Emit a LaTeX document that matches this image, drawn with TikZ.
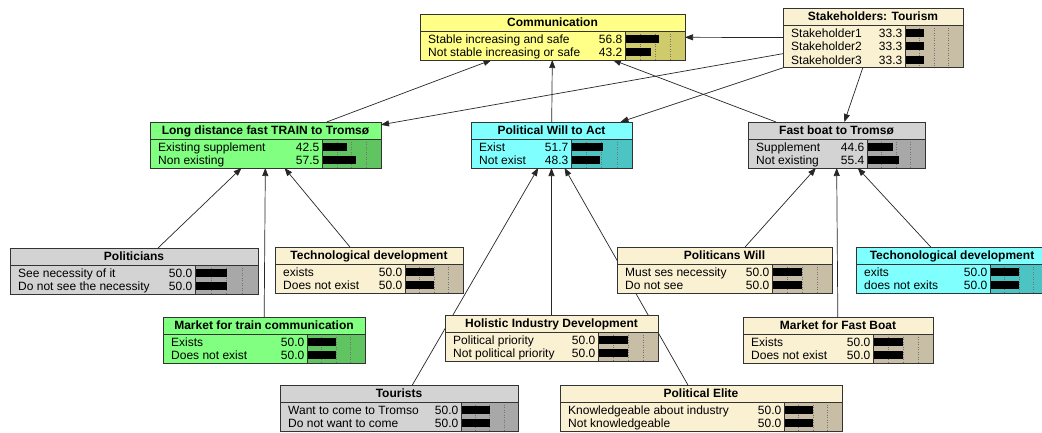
\documentclass[tikz,border=0pt]{standalone}
\usepackage{fontspec}
\setmainfont{Liberation Sans}
\usetikzlibrary{arrows.meta}
\pgfdeclarelayer{bg}
\pgfdeclarelayer{paper}
\pgfsetlayers{paper,bg,main}
\definecolor{ylw}{HTML}{FFFF88}
\definecolor{ylwD}{HTML}{CFCB6A}
\definecolor{bge}{HTML}{FAF0D2}
\definecolor{bgeD}{HTML}{C8BEA5}
\definecolor{grn}{HTML}{80FF80}
\definecolor{grnD}{HTML}{60C460}
\definecolor{cyn}{HTML}{80FFFF}
\definecolor{cynD}{HTML}{4CC4C4}
\definecolor{gry}{HTML}{D3D3D3}
\definecolor{gryD}{HTML}{A8A8A8}
\tikzset{
  arr/.style={draw=black!85, line width=0.7pt, -{Triangle[length=8pt,width=6pt]}},
  boxline/.style={draw=black!80, line width=0.8pt},
  lab/.style={inner sep=0pt, font=\fontsize{12}{13}\selectfont},
  ttl/.style={inner sep=0pt, font=\bfseries\fontsize{12}{13}\selectfont},
  grid/.style={draw=black!55, dotted, line width=0.5pt}
}
% #1 name, #2 L, #3 T, #4 R, #5 bar start, #6 number of states, #7 title, #8 colour, #9 states
\newcommand\bnet[9]{%
  \pgfmathsetmacro\bnH{17+2+13.5*#6}%
  \pgfmathsetmacro\bnW{#4-#2}%
  \node[fill=#8, minimum width=\bnW pt, minimum height=\bnH pt, anchor=north west,
        inner sep=0pt, outer sep=0pt] (#1) at (#2,#3) {};
  \fill[#8D] (#5,{#3+17}) rectangle (#4,{#3+\bnH});
  \foreach \p in {0.25,0.5,0.75}
    \draw[grid] ({#5+\p*(#4-#5)},{#3+17}) -- ({#5+\p*(#4-#5)},{#3+\bnH});
  \node[ttl, anchor=base] at ({(#2+#4)/2},{#3+12.8}) {#7};
  \foreach[count=\i] \lb/\vl in {#9} {%
    \pgfmathsetmacro\yy{#3+18+13.5*(\i-0.5)}%
    \node[lab, anchor=base west] at ({#2+8},{\yy+4.3}) {\lb};
    \node[lab, anchor=base east] at ({#5-2.5},{\yy+4.3}) {\vl};
    \fill[black] (#5,{\yy-4}) rectangle ({#5+\vl/100*(#4-#5)},{\yy+4});
  }
  \draw[boxline] (#2,{#3+17}) -- (#4,{#3+17});
  \draw[boxline] (#5,{#3+17}) -- (#5,{#3+\bnH});
  \draw[boxline] (#2,#3) rectangle (#4,{#3+\bnH});
}
\begin{document}
\begin{tikzpicture}[x=1pt,y=-1pt]
\begin{pgfonlayer}{paper}
\fill[white] (0,0) rectangle (1042,432);
\end{pgfonlayer}
\useasboundingbox (0,0) rectangle (1042,432);

\bnet{comm}{420}{14}{685}{625}{2}{Communication}{ylw}{Stable increasing and safe/56.8, Not stable increasing or safe/43.2}
\bnet{stake}{783}{8}{963}{905}{3}{Stakeholders: Tourism}{bge}{Stakeholder1/33.3, Stakeholder2/33.3, Stakeholder3/33.3}
\bnet{train}{150}{122}{381}{322}{2}{Long distance fast TRAIN to Tromsø}{grn}{Existing supplement/42.5, Non existing/57.5}
\bnet{pw}{471}{122}{632}{571}{2}{Political Will to Act}{cyn}{Exist/51.7, Not exist/48.3}
\bnet{boat}{748}{122}{925}{867}{2}{Fast boat to Tromsø}{gry}{Supplement/44.6, Not existing/55.4}
\bnet{politicians}{10}{248}{258}{195}{2}{Politicians}{gry}{See necessity of it/50.0, Do not see the necessity/50.0}
\bnet{tech}{275}{247}{463}{405}{2}{Technological development}{bge}{exists/50.0, Does not exist/50.0}
\bnet{polwill}{617}{247}{832}{772}{2}{Politicans Will}{bge}{Must ses necessity/50.0, Do not see/50.0}
\bnet{techr}{856}{247}{1048}{990}{2}{Techonological development}{cyn}{exits/50.0, does not exits/50.0}
\bnet{mtrain}{163}{317}{365}{307}{2}{Market for train communication}{grn}{Exists/50.0, Does not exist/50.0}
\bnet{holistic}{445}{315}{658}{598}{2}{Holistic Industry Development}{bge}{Political priority/50.0, Not political priority/50.0}
\bnet{mboat}{743}{317}{933}{873}{2}{Market for Fast Boat}{bge}{Exists/50.0, Does not exist/50.0}
\bnet{tourists}{280}{385}{518}{461}{2}{Tourists}{gry}{Want to come to Tromso/50.0, Do not want to come/50.0}
\bnet{elite}{560}{385}{842}{784}{2}{Political Elite}{bge}{Knowledgeable about industry/50.0, Not knowledgeable/50.0}

\begin{pgfonlayer}{bg}
\draw[arr] (stake) -- (comm);
\draw[arr] (stake) -- (train);
\draw[arr] (stake) -- (pw);
\draw[arr] (stake) -- (boat);
\draw[arr] (train) -- (comm);
\draw[arr] (pw) -- (comm);
\draw[arr] (boat) -- (comm);
\draw[arr] (politicians) -- (train);
\draw[arr] (mtrain) -- (train);
\draw[arr] (tech) -- (train);
\draw[arr] (tourists) -- (pw);
\draw[arr] (holistic) -- (pw);
\draw[arr] (elite) -- (pw);
\draw[arr] (polwill) -- (boat);
\draw[arr] (mboat) -- (boat);
\draw[arr] (techr) -- (boat);
\end{pgfonlayer}
\end{tikzpicture}
\end{document}
